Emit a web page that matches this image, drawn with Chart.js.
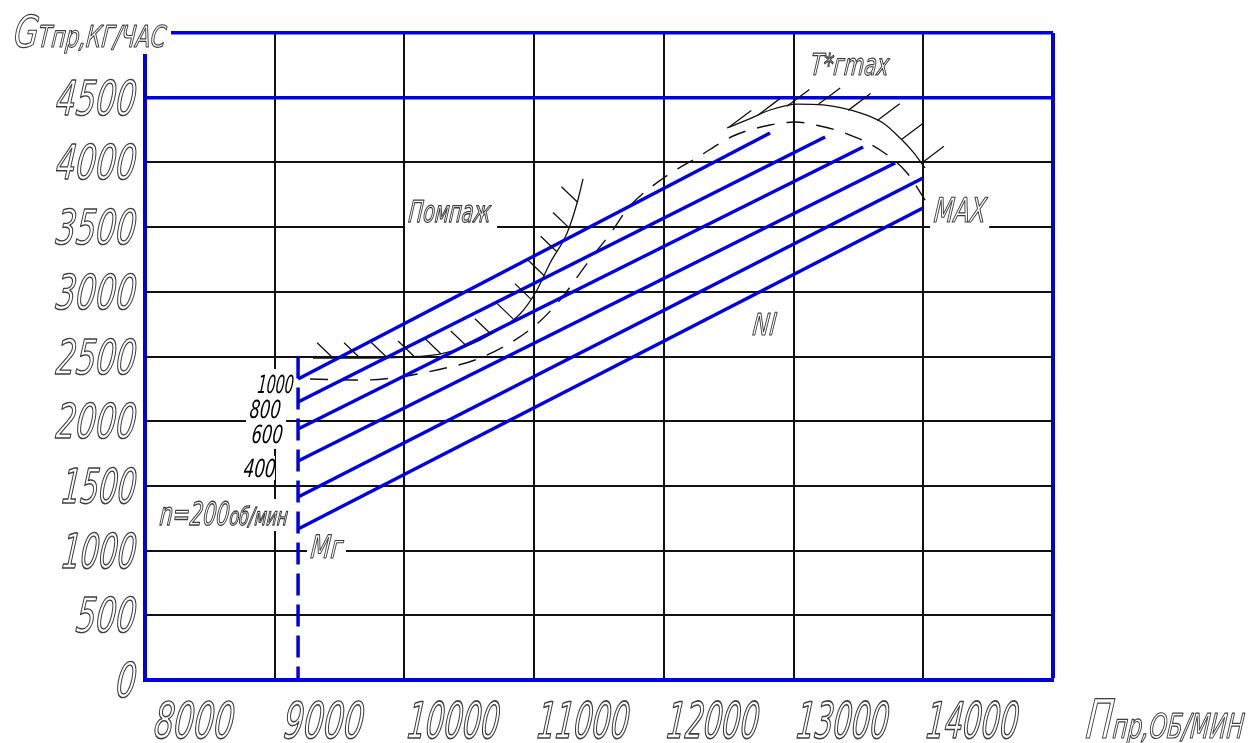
<!DOCTYPE html>
<html>
<head>
<meta charset="utf-8">
<script src="https://cdn.jsdelivr.net/npm/chart.js@4.4.1/dist/chart.umd.min.js"></script>
<style>
  html, body { margin: 0; padding: 0; background: #ffffff; }
  #wrap { width: 1252px; height: 743px; }
</style>
</head>
<body>
<div id="wrap"><canvas id="chart" width="1252" height="743"></canvas></div>
<script>
// Axis ranges (reduced rotor speed, rpm / reduced fuel flow, kg/h)
const xRange = [8000, 15000];
const xStep = 1000;
const yRange = [0, 5000];
const yStep = 500;

// Tick labels
const xTicks = [8000, 9000, 10000, 11000, 12000, 13000, 14000];
const yTicks = [0, 500, 1000, 1500, 2000, 2500, 3000, 3500, 4000, 4500];

// Constant-speed lines (n, об/мин): start and end points
const lineNames  = ['n=1000', 'n=800', 'n=600', 'n=400', 'n=200', 'n=0'];
const lineStartX = [9180, 9180, 9180, 9180, 9180, 9180];
const lineStartY = [2326, 2148, 1940, 1692, 1414, 1167];
const lineEndX   = [12819, 13243, 13536, 13783, 13998, 13998];
const lineEndY   = [4227, 4196, 4119, 3995, 3879, 3648];

// Idle speed (Мг) vertical
const idleX = [9180, 9180];
const idleY = [2500, 0];

// Surge boundary (Помпаж)
const surgeX = [9295, 9658, 10005, 10274, 10483, 10683, 10891, 11022, 11123, 11254, 11331, 11377];
const surgeY = [2488, 2488, 2496, 2519, 2581, 2682, 2828, 3014, 3223, 3454, 3686, 3872];

// Operating envelope (dashed)
const envX = [9272, 9673, 9966, 10251, 10544, 10814, 11030, 11200, 11416, 11608, 11724, 12009, 12264, 12534, 12819, 13012, 13204, 13397, 13667, 13875, 14014];
const envY = [2326, 2318, 2342, 2396, 2473, 2604, 2759, 2937, 3230, 3478, 3648, 3887, 4042, 4204, 4289, 4312, 4281, 4227, 4096, 3918, 3709];

// Gas temperature limit (T*г max)
const tmaxX = [12487, 12641, 12819, 13027, 13227, 13513, 13690, 13821, 13922, 14014];
const tmaxY = [4266, 4328, 4405, 4451, 4444, 4382, 4304, 4188, 4080, 3957];

const BLUE = '#0000e0';
const INK = '#111111';
const TEXT = '#3c3c3c';
const FONT = "'DejaVu Sans Condensed', 'Liberation Sans', sans-serif";
const SLANT = -0.1;   // extra lean added to the oblique face

const pts = (xs, ys) => xs.map((x, i) => ({ x, y: ys[i] }));

// In-plot captions, anchored in data units at the text baseline.
// fit = drawn width in px; stroke = outline lettering
const notes = [
  { runs: [['1000', 25]], x: 9141, y: 2218, align: 'right', fit: 36, color: '#000', padT: 6, padB: 6 },
  { runs: [['800', 25]],  x: 9041, y: 2025, align: 'right', fit: 31, color: '#000', padT: 6, padB: 6 },
  { runs: [['600', 25]],  x: 9056, y: 1832, align: 'right', fit: 31, color: '#000', padT: 6, padB: 6 },
  { runs: [['400', 25]],  x: 9002, y: 1569, align: 'right', fit: 32, color: '#000', padR: 0 },
  { runs: [['n=200', 32], ['об/мин', 25]], x: 9095, y: 1198, align: 'right', fit: 128, color: TEXT, stroke: 0.9 },
  { runs: [['Мг', 32]],   x: 9272, y: 943,  align: 'left', fit: 32, color: TEXT, stroke: 0.9 },
  { runs: [['Помпаж', 30]], x: 10028, y: 3539, align: 'left', fit: 82, color: TEXT, stroke: 0.9, padB: 9, padR: 7 },
  { runs: [['MAX', 34]],  x: 14076, y: 3539, align: 'left', fit: 52, color: TEXT, stroke: 0.9, padB: 9, padR: 4 },
  { runs: [['T*гmax', 30]], x: 13127, y: 4675, align: 'left', fit: 78, color: TEXT, stroke: 0.9 },
  { runs: [['Nl', 30]],   x: 12680, y: 2666, align: 'left', fit: 23, color: TEXT, stroke: 0.9 }
];

function layoutRuns(ctx, runs, fit) {
  let w = 0, asc = 0, desc = 0;
  const parts = runs.map(([t, size]) => {
    ctx.font = `italic ${size}px ${FONT}`;
    const m = ctx.measureText(t);
    asc = Math.max(asc, m.actualBoundingBoxAscent);
    desc = Math.max(desc, m.actualBoundingBoxDescent);
    w += m.width;
    return { t, size, w: m.width };
  });
  const sx = fit ? fit / w : 1;
  parts.forEach(p => { p.w *= sx; });
  return { parts, w: w * sx, asc, desc, sx };
}

function paintRuns(ctx, L, left, base, color, stroke) {
  let x = left;
  ctx.textAlign = 'left';
  ctx.textBaseline = 'alphabetic';
  L.parts.forEach(p => {
    ctx.save();
    ctx.font = `italic ${p.size}px ${FONT}`;
    ctx.translate(x, base);
    ctx.transform(1, 0, SLANT, 1, 0, 0);
    ctx.scale(L.sx, 1);
    if (stroke) {
      ctx.strokeStyle = color;
      ctx.lineWidth = stroke / L.sx;
      ctx.lineJoin = 'round';
      ctx.strokeText(p.t, 0, 0);
    } else {
      ctx.fillStyle = color;
      ctx.fillText(p.t, 0, 0);
    }
    ctx.restore();
    x += p.w;
  });
}

function drawNote(ctx, n, px, py, clear = true) {
  const L = layoutRuns(ctx, n.runs, n.fit);
  const left = n.align === 'right' ? px - L.w : (n.align === 'center' ? px - L.w / 2 : px);
  if (clear) {
    const pl = n.padL ?? 3, pr = n.padR ?? 4, pt = n.padT ?? 3, pb = n.padB ?? 3;
    ctx.fillStyle = '#ffffff';
    ctx.fillRect(left - pl, py - L.asc - pt, L.w + pl + pr, L.asc + L.desc + pt + pb);
  }
  paintRuns(ctx, L, left, py, n.color, n.stroke);
}

// Tick labels, axis captions and in-plot captions: above the grid, below the data lines
const captionPlugin = {
  id: 'captions',
  beforeDatasetsDraw(chart) {
    const { ctx, chartArea: a, scales: { x, y } } = chart;
    ctx.save();

    const DIGIT = 20;   // drawn width per digit
    xTicks.forEach(v => {
      const s = String(v);
      drawNote(ctx, { runs: [[s, 50]], fit: DIGIT * s.length - (s.startsWith('1') ? 8 : 0), align: 'center', color: TEXT, stroke: 1.0 },
        x.getPixelForValue(v) + 48, a.bottom + 58, false);
    });
    yTicks.forEach(v => {
      const s = String(v);
      drawNote(ctx, { runs: [[s, 48]], fit: DIGIT * s.length - (s.startsWith('1') ? 6 : 0), align: 'right', color: TEXT, stroke: 1.0 },
        a.left - 10, y.getPixelForValue(v) + 17, false);
    });

    notes.forEach(n => drawNote(ctx, n, x.getPixelForValue(n.x), y.getPixelForValue(n.y)));

    // Vertical axis caption in the open top-left corner of the frame
    drawNote(ctx, { runs: [['G', 44], ['Тпр,КГ/ЧАС', 30]], fit: 152, align: 'left', color: TEXT, stroke: 0.9,
      padL: 6, padR: 6, padT: 12, padB: 1 }, a.left - 132, a.top + 14);

    // Horizontal axis caption to the right of the frame
    drawNote(ctx, { runs: [['П', 54], ['пр,ОБ/МИН', 34]], fit: 158, align: 'left', color: TEXT, stroke: 0.9 },
      a.right + 32, a.bottom + 58, false);
    ctx.restore();
  }
};

// Short hatch strokes along limit lines
const hatchPlugin = {
  id: 'hatch',
  afterDatasetsDraw(chart) {
    const { ctx, chartArea: a } = chart;
    chart.data.datasets.forEach((ds, i) => {
      const h = ds.hatch;
      if (!h) return;
      const p = chart.getDatasetMeta(i).data.map(e => ({ x: e.x, y: e.y }));
      const n = Math.hypot(h.dx, h.dy);
      const dx = h.dx / n, dy = h.dy / n;
      ctx.save();
      ctx.beginPath();
      ctx.rect(a.left, a.top - 40, a.width, a.height + 40);
      ctx.clip();
      ctx.strokeStyle = ds.borderColor;
      ctx.lineWidth = h.width || 1.3;
      ctx.beginPath();
      let target = h.start, walked = 0;
      for (let k = 1; k < p.length; k++) {
        const A = p[k - 1], B = p[k];
        const len = Math.hypot(B.x - A.x, B.y - A.y);
        while (target <= walked + len) {
          const t = (target - walked) / len;
          const qx = A.x + (B.x - A.x) * t, qy = A.y + (B.y - A.y) * t;
          ctx.moveTo(qx, qy);
          ctx.lineTo(qx + dx * h.len, qy + dy * h.len);
          target += h.step;
        }
        walked += len;
      }
      ctx.stroke();
      ctx.restore();
    });
  }
};

const speedSets = lineNames.map((name, i) => ({
  label: name,
  data: [{ x: lineStartX[i], y: lineStartY[i] }, { x: lineEndX[i], y: lineEndY[i] }],
  borderColor: BLUE,
  borderWidth: 3.5,
  borderCapStyle: 'butt',
  pointRadius: 0,
  tension: 0
}));

const datasets = [
  ...speedSets,
  {
    label: 'Мг',
    data: pts(idleX, idleY),
    borderColor: BLUE,
    borderWidth: 3.5,
    borderDash: [22, 9],
    borderCapStyle: 'butt',
    pointRadius: 0
  },
  {
    label: 'Помпаж',
    data: pts(surgeX, surgeY),
    borderColor: INK,
    borderWidth: 1.3,
    pointRadius: 0,
    cubicInterpolationMode: 'monotone',
    hatch: { dx: -0.72, dy: -0.69, len: 22, step: 27, start: 20 }
  },
  {
    label: 'envelope',
    data: pts(envX, envY),
    borderColor: INK,
    borderWidth: 1.4,
    borderDash: [18, 12],
    pointRadius: 0,
    cubicInterpolationMode: 'monotone'
  },
  {
    label: 'T*г max',
    data: pts(tmaxX, tmaxY),
    borderColor: INK,
    borderWidth: 1.3,
    pointRadius: 0,
    cubicInterpolationMode: 'monotone',
    hatch: { dx: 0.8, dy: -0.6, len: 28, step: 31, start: 2 }
  }
];

new Chart(document.getElementById('chart'), {
  type: 'line',
  data: { datasets },
  plugins: [captionPlugin, hatchPlugin],
  options: {
    responsive: false,
    devicePixelRatio: 1,
    animation: false,
    layout: { padding: { top: 33, right: 199, bottom: 0, left: 0 } },
    plugins: { legend: { display: false }, tooltip: { enabled: false } },
    scales: {
      x: {
        type: 'linear',
        min: xRange[0],
        max: xRange[1],
        afterFit(s) { s.height = 63; },
        ticks: { stepSize: xStep, display: false },
        grid: {
          drawTicks: false,
          color: c => (c.tick && c.tick.value === xRange[1] ? BLUE : INK),
          lineWidth: c => (c.tick && c.tick.value === xRange[1] ? 4 : 2)
        },
        border: { color: BLUE, width: 4 }
      },
      y: {
        type: 'linear',
        min: yRange[0],
        max: yRange[1],
        afterFit(s) { s.width = 145; },
        ticks: { stepSize: yStep, display: false },
        grid: {
          drawTicks: false,
          color: c => (c.tick && (c.tick.value === 4500 || c.tick.value === yRange[1]) ? BLUE : INK),
          lineWidth: c => (c.tick && (c.tick.value === 4500 || c.tick.value === yRange[1]) ? 3.5 : 2)
        },
        border: { color: BLUE, width: 4 }
      }
    }
  }
});
</script>
</body>
</html>
